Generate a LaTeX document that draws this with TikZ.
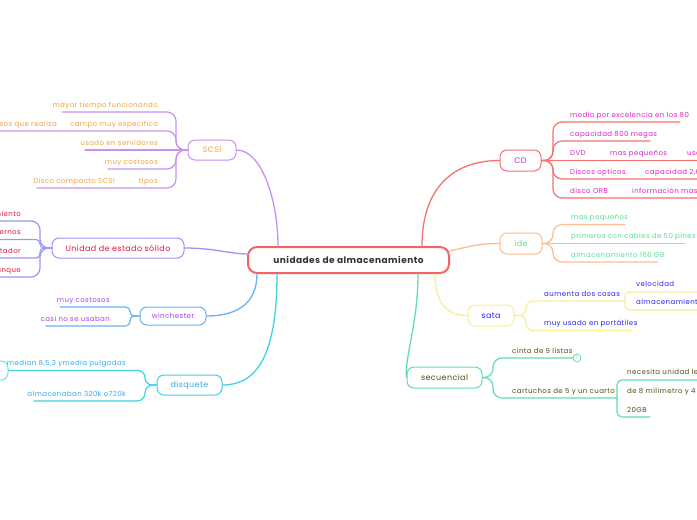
\documentclass[tikz,border=0pt]{standalone}
\usepackage{fontspec}
\setmainfont{Poppins}
\newfontfamily\mapfont[LetterSpace=6]{Poppins}
\newfontfamily\topicfont[LetterSpace=5]{Poppins}
\usetikzlibrary{positioning, calc}

\definecolor{rootred}{HTML}{F26363}
\definecolor{inkdark}{HTML}{333333}
\definecolor{scsiline}{HTML}{C592F2}
\definecolor{scsitext}{HTML}{F2A33A}
\definecolor{ssdline}{HTML}{9A96F7}
\definecolor{ssdtext}{HTML}{E3173F}
\definecolor{winline}{HTML}{66B3F5}
\definecolor{wintext}{HTML}{A545EC}
\definecolor{disqline}{HTML}{3FD3E3}
\definecolor{disqtext}{HTML}{35A9EE}
\definecolor{cdline}{HTML}{F77171}
\definecolor{cdtext}{HTML}{DB22C6}
\definecolor{ideline}{HTML}{FCBD94}
\definecolor{idetext}{HTML}{55E08F}
\definecolor{sataline}{HTML}{F9EE9A}
\definecolor{satatext}{HTML}{2A22F0}
\definecolor{secline}{HTML}{62DDB2}
\definecolor{sectext}{HTML}{4F4F14}

\begin{document}
\begin{tikzpicture}[x=1pt, y=-1pt, line cap=round, line join=round,
    topic/.style={draw, line width=1pt, rounded corners=7pt, fill=white,
      inner sep=0pt, minimum height=20pt, font=\topicfont\fontsize{8}{9}\selectfont},
    link/.style={line width=1.3pt},
    twig/.style={line width=1.2pt, rounded corners=9pt},
    fork/.style={line width=1.2pt, rounded corners=4pt},
    txtl/.style={anchor=base east, inner sep=0pt, font=\mapfont\fontsize{7}{8}\selectfont},
    txtr/.style={anchor=base west, inner sep=0pt, font=\mapfont\fontsize{7}{8}\selectfont}]
  \useasboundingbox (0,0) rectangle (697,520);
  \clip (0,0) rectangle (697,520);
  \fill[white] (0,0) rectangle (697,520);

  % --- central topic -------------------------------------------------
  \node[topic, draw=rootred, line width=2pt, rounded corners=9pt,
    minimum width=201pt, minimum height=26pt, text=inkdark,
    font=\topicfont\bfseries\fontsize{9}{10}\selectfont] (root) at (348.5,260)
    {unidades de almacenamiento};

  % --- SCSI ------------------------------------------------------------
  \node[topic, draw=scsiline, text=scsitext, minimum width=48pt] (scsi) at (212,150) {SCSI};
  \draw[link, scsiline] (scsi.east) .. controls (262,150) and ($(root.north west)+(31,-45)$)
    .. ($(root.north west)+(31,0)$);
  \coordinate (sc1) at (62,112);
  \coordinate (sc2) at (-5,131);
  \coordinate (sc3) at (85,150);
  \coordinate (sc4) at (108,169);
  \coordinate (sc5) at (37,188);
  \draw[twig, scsiline] (scsi.west) -- (176,150) |- (sc1);
  \draw[twig, scsiline] (scsi.west) -- (176,150) |- (sc2);
  \draw[twig, scsiline] (scsi.west) -- (sc3);
  \draw[twig, scsiline] (scsi.west) -- (176,150) |- (sc4);
  \draw[twig, scsiline] (scsi.west) -- (176,150) |- (sc5);
  \node[txtl, text=scsitext] (sc1t) at (158,107) {mayor tiempo funcionando};
  \node[txtl, text=scsitext] (sc2t) at (158,126) {campo muy especifico};
  \node[txtl, text=scsitext] (sc2u) at (57,126) {procesos que realiza};
  \node[txtl, text=scsitext] (sc3t) at (158,145) {usado en servidores};
  \node[txtl, text=scsitext] (sc4t) at (158,164) {muy costosos};
  \node[txtl, text=scsitext] (sc5t) at (158,183) {tipos};
  \node[txtl, text=scsitext] (sc5u) at (115,183) {Disco compacto SCSI};

  % --- Unidad de estado solido ---------------------------------------
  \node[topic, draw=ssdline, text=ssdtext, minimum width=132pt] (ssd) at (118,248)
    {Unidad de estado sólido};
  \draw[link, ssdline] (ssd.east) .. controls (215,248) and (230,254) .. ($(root.west)+(1,-6)$);
  \coordinate (ss1) at (-5,221);
  \coordinate (ss2) at (-5,239.5);
  \coordinate (ss3) at (-5,258);
  \coordinate (ss4) at (-5,277);
  \draw[twig, ssdline] (ssd.west) -- (40,248) |- (ss1);
  \draw[twig, ssdline, rounded corners=4pt] (ssd.west) -- (40,248) |- (ss2);
  \draw[twig, ssdline, rounded corners=4pt] (ssd.west) -- (40,248) |- (ss3);
  \draw[twig, ssdline] (ssd.west) -- (40,248) |- (ss4);
  \node[txtl, text=ssdtext] (ss1t) at (21,216) {almacenamiento};
  \node[txtl, text=ssdtext] (ss2t) at (21,234.5) {internos};
  \node[txtl, text=ssdtext] (ss3t) at (21,253) {computador};
  \node[txtl, text=ssdtext] (ss4t) at (21,272) {arranque};

  % --- winchester ------------------------------------------------------
  \node[topic, draw=winline, text=wintext, minimum width=66pt, minimum height=18pt,
    font=\topicfont\fontsize{7.2}{8}\selectfont] (win) at (173,316) {winchester};
  \draw[link, winline] (win.east) .. controls (240,316) and ($(root.south west)+(10,27)$)
    .. ($(root.south west)+(10,0)$);
  \coordinate (wi1) at (60,307);
  \coordinate (wi2) at (46,326);
  \draw[twig, winline, rounded corners=4.5pt] (win.west) -- (130,316) |- (wi1);
  \draw[twig, winline, rounded corners=4.5pt] (win.west) -- (130,316) |- (wi2);
  \node[txtl, text=wintext] (wi1t) at (110,302) {muy costosos};
  \node[txtl, text=wintext] (wi2t) at (110,321) {casi no se usaban};

  % --- disquete --------------------------------------------------------
  \node[topic, draw=disqline, text=disqtext, minimum width=65pt] (disq) at (189.5,385) {disquete};
  \draw[link, disqline] (disq.east) .. controls (255,385) and ($(root.south west)+(30,85)$)
    .. ($(root.south west)+(30,0)$);
  \node[topic, draw=disqline!70, minimum width=60pt, minimum height=19pt] (dqsub) at (-22,370.5) {};
  \coordinate (dq2) at (34,401);
  \draw[twig, disqline, rounded corners=7pt] (disq.west) -- (145,385) |- (dqsub.east);
  \draw[twig, disqline, rounded corners=8pt] (disq.west) -- (145,385) |- (dq2);
  \node[txtl, text=disqtext] (dq1t) at (126,365.5) {median 8,5,3 ymedia pulgadas};
  \node[txtl, text=disqtext] (dq2t) at (126,396) {almacenaban 320k o720k};

  % --- CD --------------------------------------------------------------
  \node[topic, draw=cdline, text=cdtext, minimum width=41pt, minimum height=21pt] (cd)
    at (520.5,160.5) {CD};
  \draw[link, cdline] (cd.west) .. controls (455,160.5) and ($(root.north east)+(-28,-60)$)
    .. ($(root.north east)+(-28,0)$);
  \coordinate (cd1) at (680,122);
  \coordinate (cd2) at (650,141);
  \coordinate (cd3) at (710,160.5);
  \coordinate (cd4) at (710,179);
  \coordinate (cd5) at (710,198);
  \draw[twig, cdline] (cd.east) -- (553,160.5) |- (cd1);
  \draw[twig, cdline] (cd.east) -- (553,160.5) |- (cd2);
  \draw[twig, cdline] (cd.east) -- (cd3);
  \draw[twig, cdline] (cd.east) -- (553,160.5) |- (cd4);
  \draw[twig, cdline] (cd.east) -- (553,160.5) |- (cd5);
  \node[txtr, text=cdtext] (cd1t) at (570,117) {medio por excelencia en los 80};
  \node[txtr, text=cdtext] (cd2t) at (570,136) {capacidad 800 megas};
  \node[txtr, text=cdtext] (cd3t) at (570,155.5) {DVD};
  \node[txtr, text=cdtext] (cd3u) at (610,155.5) {mas pequeños};
  \node[txtr, text=cdtext] (cd3v) at (687,155.5) {usos};
  \node[txtr, text=cdtext] (cd4t) at (570,174) {Discos opticos};
  \node[txtr, text=cdtext] (cd4u) at (645,174) {capacidad 2,6GB};
  \node[txtr, text=cdtext] (cd5t) at (570,193) {disco ORB};
  \node[txtr, text=cdtext] (cd5u) at (632,193) {información mas pequeña};

  % --- ide -------------------------------------------------------------
  \node[topic, draw=ideline, text=idetext, minimum width=42pt, minimum height=21pt] (ide)
    at (521,243.5) {ide};
  \draw[link, ideline] (ide.west) .. controls (475,243.5) and (465,248) .. ($(root.east)+(-1,-9)$);
  \coordinate (id1) at (625,224.5);
  \coordinate (id2) at (685,243.5);
  \coordinate (id3) at (658,262);
  \draw[twig, ideline] (ide.east) -- (553,243.5) |- (id1);
  \draw[twig, ideline] (ide.east) -- (id2);
  \draw[twig, ideline] (ide.east) -- (553,243.5) |- (id3);
  \node[txtr, text=idetext] (id1t) at (571,219.5) {mas pequeños};
  \node[txtr, text=idetext] (id2t) at (571,238.5) {primeros con cables de 50 pines};
  \node[txtr, text=idetext] (id3t) at (571,257) {almacenamiento 160 GB};

  % --- sata ------------------------------------------------------------
  \node[topic, draw=sataline, text=satatext, minimum width=46pt, minimum height=21pt] (sata)
    at (491,315.5) {sata};
  \draw[link, sataline] (sata.west) .. controls (445,315.5) and ($(root.south east)+(-15,27)$)
    .. ($(root.south east)+(-15,0)$);
  \coordinate (sa1) at (625,301);
  \coordinate (sa2) at (632,330.5);
  \coordinate (sa1a) at (710,292);
  \coordinate (sa1b) at (710,310);
  \draw[twig, sataline, rounded corners=7pt] (sata.east) -- (526,315.5) |- (sa1);
  \draw[twig, sataline, rounded corners=7pt] (sata.east) -- (526,315.5) |- (sa2);
  \draw[fork, sataline] (sa1) |- (sa1a);
  \draw[fork, sataline] (sa1) |- (sa1b);
  \node[txtr, text=satatext] (sa1t) at (544,296) {aumenta dos cosas};
  \node[txtr, text=satatext] (sa2t) at (544,325.5) {muy usado en portátiles};
  \node[txtr, text=satatext] (sa1u) at (636,286) {velocidad};
  \node[txtr, text=satatext] (sa1v) at (636,304.5) {almacenamiento};

  % --- secuencial ------------------------------------------------------
  \node[topic, draw=secline, text=sectext, minimum width=75pt, minimum height=21pt] (sec)
    at (444.5,377.5) {secuencial};
  \draw[link, secline] (sec.west) .. controls (404,360) and ($(root.south east)+(-32,50)$)
    .. ($(root.south east)+(-32,0)$);
  \node[circle, draw=secline, fill=white, line width=0.8pt, inner sep=0pt, minimum size=8pt,
    text=secline, font=\fontsize{5}{5}\selectfont] (se1c) at (577,358) {1};
  \coordinate (se2) at (617,398);
  \coordinate (se2a) at (710,380);
  \coordinate (se2b) at (650,417);
  \draw[twig, secline] (sec.east) -- (493,377.5) |- (se1c.west);
  \draw[twig, secline] (sec.east) -- (493,377.5) |- (se2);
  \draw[fork, secline, rounded corners=5pt] (se2) |- (se2a);
  \draw[fork, secline, rounded corners=5pt] (se2) |- (se2b);
  \node[txtr, text=sectext] (se1t) at (512,353) {cinta de 9 listas};
  \node[txtr, text=sectext] (se2t) at (512,393) {cartuchos de 5 y un cuarto};
  \node[txtr, text=sectext] (se2u) at (627,374.5) {necesita unidad lectora};
  \node[txtr, text=sectext] (se2v) at (627,393) {de 8 milimetro y 4};
  \node[txtr, text=sectext] (se2w) at (627,412) {20GB};
\end{tikzpicture}
\end{document}
